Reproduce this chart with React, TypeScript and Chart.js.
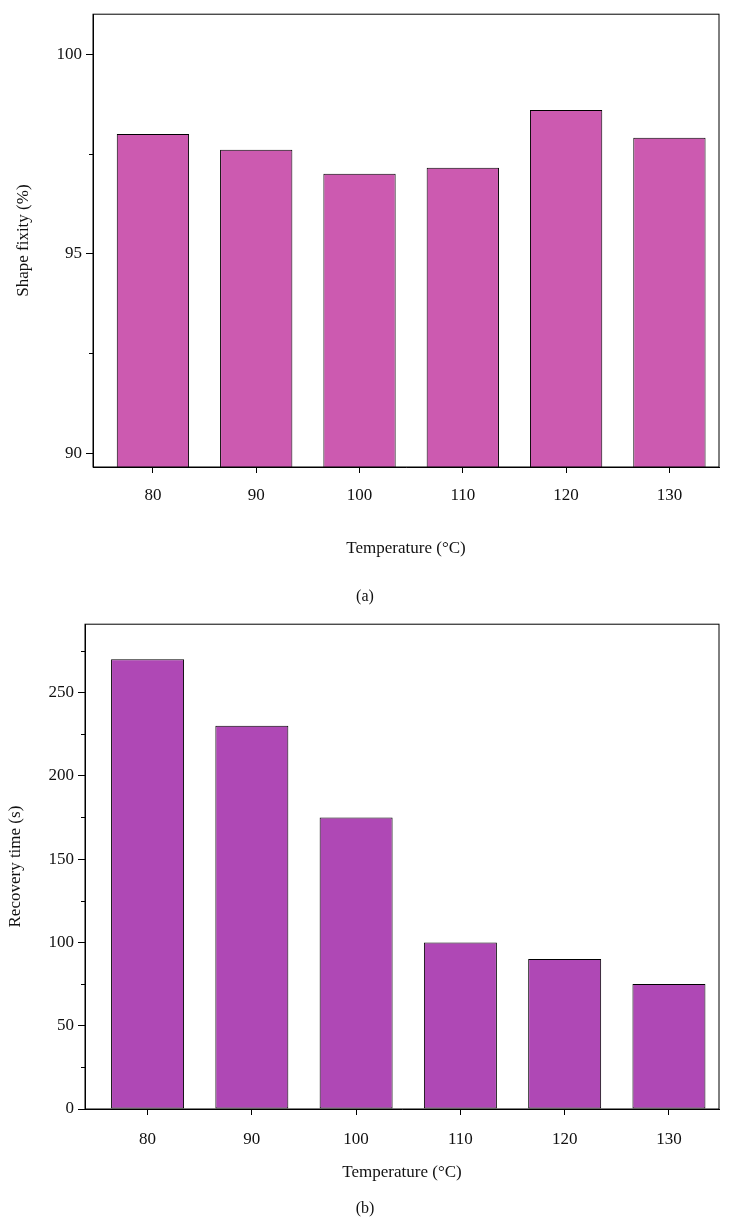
import React, { useEffect, useRef } from "react";
import { Chart, registerables } from "chart.js";
Chart.register(...registerables);

const categories = ["80", "90", "100", "110", "120", "130"];
const fixityValues = [98.0, 97.6, 97.0, 97.15, 98.6, 97.9];
const recoveryValues = [270, 230, 175, 100, 90, 75];
const fixityMajor = [90, 95, 100];
const fixityMinor = [92.5, 97.5];
const recoveryMajor = [0, 50, 100, 150, 200, 250];
const recoveryMinor = [25, 75, 125, 175, 225, 275];

const FONT = "'Liberation Serif', 'DejaVu Serif', serif";

function makeChart(
  canvas: HTMLCanvasElement,
  values: number[],
  color: string,
  yMin: number,
  yMax: number,
  xMin: number,
  xMax: number,
  major: number[],
  minor: number[],
  yTitle: string,
  plotLeft: number,
  plotTop: number,
  plotBottom: number,
  canvasH: number,
  titleX: number,
  xTitleOff: number,
  xTickPad: number
) {
  const deco = {
    id: "deco",
    afterDraw(chart: any) {
      const { ctx, chartArea: a, scales } = chart;
      ctx.save();
      ctx.strokeStyle = "#000";
      ctx.lineWidth = 1;
      ctx.strokeRect(a.left, a.top, a.right - a.left, a.bottom - a.top);
      ctx.beginPath();
      minor.forEach((v) => {
        const y = Math.round(scales.y.getPixelForValue(v)) + 0.5;
        ctx.moveTo(a.left - 4, y);
        ctx.lineTo(a.left, y);
      });
      ctx.stroke();
      ctx.fillStyle = "#111";
      ctx.font = `17px ${FONT}`;
      ctx.textAlign = "center";
      ctx.textBaseline = "middle";
      ctx.fillText("Temperature (°C)", (a.left + a.right) / 2, a.bottom + xTitleOff);
      ctx.translate(titleX, (a.top + a.bottom) / 2);
      ctx.rotate(-Math.PI / 2);
      ctx.fillText(yTitle, 0, 0);
      ctx.restore();
    },
  };
  return new Chart(canvas, {
    type: "bar",
    data: {
      datasets: [
        {
          data: values.map((v, i) => ({ x: i, y: v })),
          backgroundColor: color,
          borderColor: "#000",
          borderWidth: 1,
          borderSkipped: false,
          categoryPercentage: 1,
          barPercentage: 0.7,
        },
      ],
    },
    options: {
      animation: false,
      responsive: false,
      layout: { padding: { top: plotTop, right: 11, left: 0, bottom: 0 } },
      plugins: { legend: { display: false }, tooltip: { enabled: false } },
      scales: {
        x: {
          type: "linear",
          min: xMin,
          max: xMax,
          offset: false,
          grid: { display: true, offset: false, drawOnChartArea: false, drawTicks: true, tickLength: 6, color: "#000" },
          border: { color: "#000" },
          ticks: {
            color: "#111",
            font: { family: FONT, size: 17 },
            padding: xTickPad,
            callback: (v: any) => categories[v as number] ?? "",
          },
          afterBuildTicks: (s: any) => {
            s.ticks = categories.map((_, i) => ({ value: i }));
          },
          afterFit: (s: any) => {
            s.height = canvasH - plotBottom;
          },
        },
        y: {
          min: yMin,
          max: yMax,
          grid: { display: true, drawOnChartArea: false, drawTicks: true, tickLength: 7, color: "#000" },
          border: { color: "#000" },
          ticks: { color: "#111", font: { family: FONT, size: 17 }, padding: 4 },
          afterBuildTicks: (s: any) => {
            s.ticks = major.map((v) => ({ value: v }));
          },
          afterFit: (s: any) => {
            s.width = plotLeft;
          },
        },
      },
    },
    plugins: [deco],
  } as any);
}

export default function App() {
  const r1 = useRef<HTMLCanvasElement>(null);
  const r2 = useRef<HTMLCanvasElement>(null);
  useEffect(() => {
    const c1 = makeChart(r1.current!, fixityValues, "#CC5AB0", 89.65, 101, -0.58, 5.48, fixityMajor, fixityMinor,
      "Shape fixity (%)", 93, 14, 467, 610, 24, 82, 12);
    const c2 = makeChart(r2.current!, recoveryValues, "#AF48B5", 0, 291, -0.6, 5.48, recoveryMajor, recoveryMinor,
      "Recovery time (s)", 85, 14, 499, 613, 16, 64, 14);
    return () => {
      c1.destroy();
      c2.destroy();
    };
  }, []);
  const lab: React.CSSProperties = {
    position: "absolute", left: 0, width: 730, textAlign: "center",
    fontFamily: FONT, fontSize: 16, color: "#111",
  };
  return (
    <div style={{ position: "absolute", left: 0, top: 0, width: 730, height: 1223, background: "#fff" }}>
      <canvas ref={r1} width={730} height={610} style={{ position: "absolute", left: 0, top: 0 }} />
      <canvas ref={r2} width={730} height={613} style={{ position: "absolute", left: 0, top: 610 }} />
      <div style={{ ...lab, top: 587 }}>(a)</div>
      <div style={{ ...lab, top: 1199 }}>(b)</div>
    </div>
  );
}
